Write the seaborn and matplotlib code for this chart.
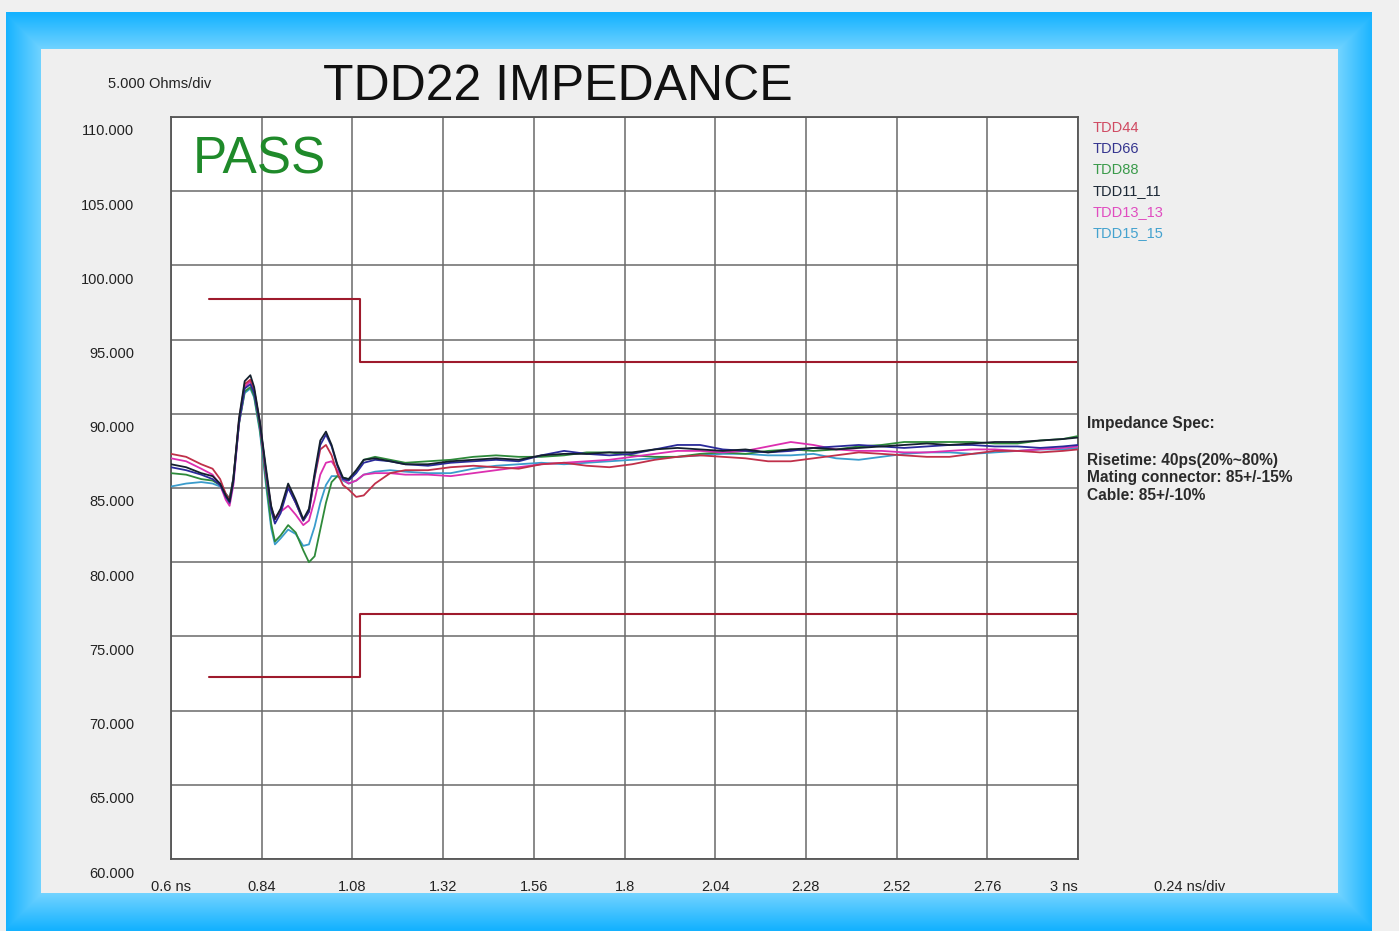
import numpy as np
import pandas as pd
import matplotlib
matplotlib.use("Agg")
import matplotlib.pyplot as plt
from matplotlib.transforms import ScaledTranslation
import seaborn as sns

# ---------------- data ----------------
t_ns = [0.60, 0.64, 0.68, 0.71, 0.73, 0.745, 0.755, 0.765, 0.78, 0.795, 0.81, 0.82,
        0.835, 0.85, 0.865, 0.875, 0.89, 0.91, 0.93, 0.95, 0.965, 0.98, 0.995, 1.01,
        1.025, 1.04, 1.055, 1.07, 1.09, 1.11, 1.14, 1.18, 1.22, 1.28, 1.34, 1.40,
        1.46, 1.52, 1.58, 1.64, 1.70, 1.76, 1.82, 1.88, 1.94, 2.00, 2.06, 2.12,
        2.18, 2.24, 2.30, 2.36, 2.42, 2.48, 2.54, 2.60, 2.66, 2.72, 2.78, 2.84,
        2.90, 2.96, 3.00]

tdd44 = [87.3, 87.1, 86.6, 86.3, 85.6, 84.6, 84.2, 85.6, 89.6, 92.0, 92.3, 91.6,
         89.4, 86.3, 83.7, 82.9, 83.5, 85.1, 84.0, 82.8, 83.4, 85.7, 87.6, 87.9,
         87.2, 86.0, 85.2, 84.9, 84.4, 84.5, 85.3, 86.0, 86.2, 86.2, 86.4, 86.5,
         86.4, 86.3, 86.6, 86.7, 86.5, 86.4, 86.6, 86.9, 87.1, 87.2, 87.1, 87.0,
         86.8, 86.8, 87.0, 87.2, 87.4, 87.3, 87.2, 87.1, 87.1, 87.3, 87.5, 87.5,
         87.4, 87.5, 87.6]
tdd66 = [86.4, 86.2, 85.9, 85.6, 85.2, 84.4, 84.0, 85.4, 89.4, 91.7, 92.0, 91.4,
         89.4, 86.4, 83.5, 82.6, 83.3, 85.0, 84.0, 82.8, 83.4, 85.8, 87.9, 88.6,
         87.8, 86.5, 85.6, 85.5, 86.0, 86.7, 86.9, 86.8, 86.6, 86.5, 86.7, 86.8,
         86.9, 86.8, 87.2, 87.5, 87.3, 87.2, 87.3, 87.6, 87.9, 87.9, 87.6, 87.5,
         87.4, 87.5, 87.7, 87.8, 87.9, 87.8, 87.7, 87.8, 87.9, 87.9, 87.8, 87.8,
         87.7, 87.8, 87.9]
tdd88 = [86.0, 85.9, 85.6, 85.5, 85.2, 84.6, 84.3, 85.6, 89.3, 91.5, 91.8, 91.2,
         89.0, 85.8, 82.6, 81.4, 81.8, 82.5, 82.0, 80.8, 80.0, 80.4, 82.2, 84.0,
         85.4, 85.8, 85.7, 85.6, 86.1, 86.9, 87.1, 86.9, 86.7, 86.8, 86.9, 87.1,
         87.2, 87.1, 87.1, 87.2, 87.4, 87.4, 87.2, 87.1, 87.1, 87.3, 87.4, 87.3,
         87.5, 87.6, 87.5, 87.6, 87.8, 87.9, 88.1, 88.1, 88.1, 88.1, 88.0, 88.0,
         88.2, 88.3, 88.5]
tdd11_11 = [86.6, 86.4, 86.0, 85.8, 85.3, 84.5, 84.1, 85.6, 89.7, 92.2, 92.6, 91.8,
            89.5, 86.6, 83.8, 82.9, 83.6, 85.3, 84.2, 82.9, 83.6, 86.0, 88.2, 88.8,
            87.9, 86.6, 85.7, 85.6, 86.2, 86.9, 87.0, 86.8, 86.6, 86.6, 86.8, 86.9,
            87.0, 86.9, 87.2, 87.3, 87.3, 87.4, 87.4, 87.6, 87.7, 87.6, 87.5, 87.6,
            87.4, 87.6, 87.7, 87.6, 87.7, 87.8, 87.9, 88.0, 87.9, 88.0, 88.1, 88.1,
            88.2, 88.3, 88.4]
tdd13_13 = [87.0, 86.8, 86.3, 85.9, 85.2, 84.2, 83.8, 85.2, 89.4, 91.8, 92.2, 91.6,
            89.4, 86.2, 83.6, 83.0, 83.4, 83.8, 83.2, 82.5, 82.8, 84.2, 85.9, 86.7,
            86.8, 86.2, 85.6, 85.3, 85.5, 85.9, 86.0, 86.0, 85.9, 85.9, 85.8, 86.0,
            86.2, 86.4, 86.6, 86.7, 86.8, 86.9, 87.1, 87.3, 87.5, 87.5, 87.4, 87.5,
            87.8, 88.1, 87.9, 87.6, 87.5, 87.5, 87.4, 87.4, 87.5, 87.6, 87.6, 87.5,
            87.6, 87.7, 87.8]
tdd15_15 = [85.1, 85.3, 85.4, 85.3, 85.1, 84.6, 84.3, 85.7, 89.4, 91.4, 91.7, 91.1,
            88.8, 85.5, 82.3, 81.2, 81.6, 82.2, 81.9, 81.1, 81.2, 82.4, 84.0, 85.2,
            85.8, 85.8, 85.5, 85.3, 85.5, 85.9, 86.1, 86.2, 86.1, 86.0, 86.0, 86.3,
            86.5, 86.6, 86.7, 86.6, 86.7, 86.8, 86.9, 87.0, 87.1, 87.2, 87.3, 87.3,
            87.2, 87.2, 87.3, 87.0, 86.9, 87.1, 87.3, 87.4, 87.4, 87.3, 87.4, 87.5,
            87.6, 87.6, 87.7]

series_names = ["TDD44", "TDD66", "TDD88", "TDD11_11", "TDD13_13", "TDD15_15"]
series_values = [tdd44, tdd66, tdd88, tdd11_11, tdd13_13, tdd15_15]

# impedance spec limits (ns, ohms)
spec_t = [0.7, 1.1, 3.0]
spec_upper = [97.75, 93.5, 93.5]
spec_lower = [72.25, 76.5, 76.5]

x_ticks = [0.6, 0.84, 1.08, 1.32, 1.56, 1.8, 2.04, 2.28, 2.52, 2.76, 3.0]
x_tick_labels = ["0.6 ns", "0.84", "1.08", "1.32", "1.56", "1.8", "2.04", "2.28",
                 "2.52", "2.76", "3 ns"]
y_ticks = [60, 65, 70, 75, 80, 85, 90, 95, 100, 105, 110]
y_tick_labels = ["60.000", "65.000", "70.000", "75.000", "80.000", "85.000",
                 "90.000", "95.000", "100.000", "105.000", "110.000"]

spec_lines = ["Impedance Spec:", "", "Risetime: 40ps(20%~80%)",
              "Mating connector: 85+/-15%", "Cable: 85+/-10%"]

# ---------------- style ----------------
sns.set_theme(style="white")
plt.rcParams["font.family"] = ["Liberation Sans", "DejaVu Sans"]

colors = {
    "TDD44": "#c0304a",
    "TDD66": "#2a2a9a",
    "TDD88": "#2e8a3a",
    "TDD11_11": "#14202e",
    "TDD13_13": "#dc2fb0",
    "TDD15_15": "#3b9ccc",
}
legend_colors = {
    "TDD44": "#d04a62",
    "TDD66": "#35358f",
    "TDD88": "#3a9a4a",
    "TDD11_11": "#1c2836",
    "TDD13_13": "#e04cc0",
    "TDD15_15": "#44a2cf",
}

W, H = 1399, 931
fig = plt.figure(figsize=(W / 100, H / 100), dpi=100, facecolor="#f0f0f0")

# background blue frame with gradient
bg = fig.add_axes([0, 0, 1, 1])
bg.set_axis_off()
yy, xx = np.mgrid[0:H, 0:W]
ox0, ox1, oy0, oy1 = 6, 1372, 12, 931
ix0, ix1, iy0, iy1 = 41, 1338, 49, 893
img = np.ones((H, W, 3)) * (0xf0 / 255)
outer = (xx >= ox0) & (xx < ox1) & (yy >= oy0) & (yy < oy1)
inner = (xx >= ix0) & (xx < ix1) & (yy >= iy0) & (yy < iy1)
dx = np.maximum(np.maximum(ix0 - xx, xx - ix1), 0)
dy = np.maximum(np.maximum(iy0 - yy, yy - iy1), 0)
d = np.maximum(dx, dy) / 36.0
d = np.clip(d, 0, 1)
light = np.array([0x72, 0xd3, 0xff]) / 255
dark = np.array([0x14, 0xb2, 0xff]) / 255
frame = light[None, None, :] * (1 - d[..., None]) + dark[None, None, :] * d[..., None]
mask = outer & ~inner
img[mask] = frame[mask]
img[inner] = 0xef / 255
bg.imshow(img, extent=(0, W, H, 0), aspect="auto", interpolation="nearest")
bg.set_xlim(0, W)
bg.set_ylim(H, 0)

# main axes
ax = fig.add_axes([171 / W, 72 / H, 907 / W, 742 / H])
ax.set_facecolor("white")

rows = []
for name, vals in zip(series_names, series_values):
    for t, v in zip(t_ns, vals):
        rows.append((name, t, v))
df = pd.DataFrame(rows, columns=["series", "t", "ohm"])

draw_order = ["TDD15_15", "TDD88", "TDD13_13", "TDD44", "TDD66", "TDD11_11"]
sns.lineplot(data=df, x="t", y="ohm", hue="series", hue_order=draw_order,
             palette=colors, estimator=None, linewidth=1.3, legend=False, ax=ax,
             zorder=3)

ax.plot(spec_t, spec_upper, drawstyle="steps-post", color="#9e1a2c", lw=1.5, zorder=2)
ax.plot(spec_t, spec_lower, drawstyle="steps-post", color="#9e1a2c", lw=1.5, zorder=2)

ax.set_xlim(0.6, 3.0)
ax.set_ylim(60, 110)
ax.set_xticks(x_ticks)
ax.set_xticklabels(x_tick_labels, fontsize=10.5, color="#222222")
ax.set_yticks(y_ticks)
ax.set_yticklabels(y_tick_labels, fontsize=10.5, color="#222222")
ax.set_xlabel("")
ax.set_ylabel("")
ax.tick_params(axis="x", length=0, pad=15)
ax.tick_params(axis="y", length=0, pad=26.5)
ax.grid(True, color="#6a6a6a", lw=1.1)
ax.set_axisbelow(True)
for s in ax.spines.values():
    s.set_visible(True)
    s.set_color("#555555")
    s.set_linewidth(1.3)

off = ScaledTranslation(0, -13 / 100, fig.dpi_scale_trans)
for lab in ax.get_yticklabels():
    lab.set_transform(lab.get_transform() + off)
xl = ax.get_xticklabels()
xl[-1].set_ha("right")

# text
def fx(px):
    return px / W

def fy(py):
    return 1 - py / H

fig.text(fx(323), fy(100), "TDD22 IMPEDANCE", fontsize=36, color="#111111",
         ha="left", va="baseline")
fig.text(fx(108), fy(88), "5.000 Ohms/div", fontsize=10.5, color="#222222",
         ha="left", va="baseline")
fig.text(fx(193), fy(174), "PASS", fontsize=37, color="#1f8a2a",
         ha="left", va="baseline", zorder=5)
fig.text(fx(1154), fy(891), "0.24 ns/div", fontsize=10.5, color="#222222",
         ha="left", va="baseline")

for i, name in enumerate(series_names):
    fig.text(fx(1093), fy(132 + 21 * i), name, fontsize=10.5,
             color=legend_colors[name], ha="left", va="baseline")

spec_y = [428, 446, 465, 482, 500]
for line, py in zip(spec_lines, spec_y):
    if line:
        fig.text(fx(1087), fy(py), line, fontsize=11.2, color="#2a2a2a",
                 fontweight="bold", ha="left", va="baseline")

fig.savefig("out.png", dpi=100, facecolor=fig.get_facecolor())
